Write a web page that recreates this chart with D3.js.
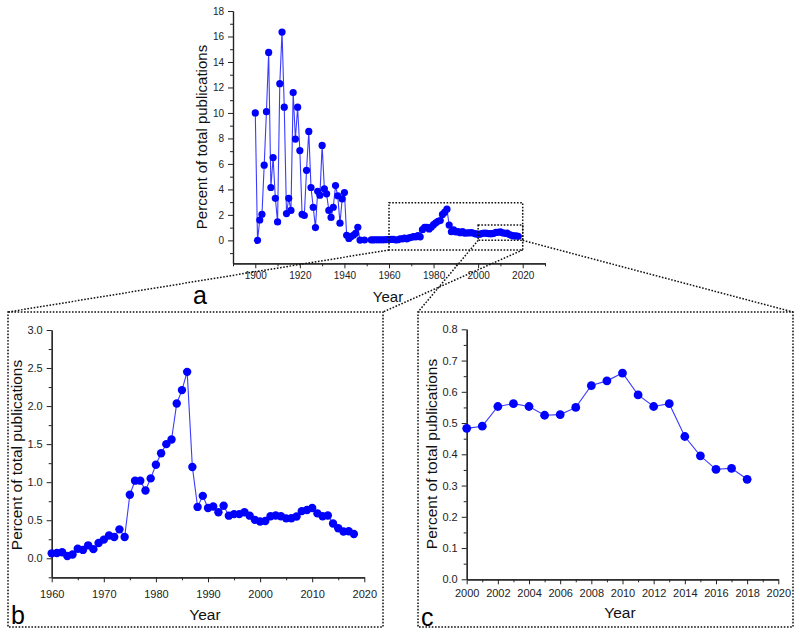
<!DOCTYPE html>
<html>
<head>
<meta charset="utf-8">
<script src="https://cdn.jsdelivr.net/npm/d3@7"></script>
<style>
  html, body { margin: 0; padding: 0; background: #fff; }
  svg { display: block; font-family: "Liberation Sans", Arial, sans-serif; }
  .tick text { fill: #222; }
</style>
</head>
<body>
<svg id="chart" width="800" height="635"></svg>
<script>
// ---------------- data ----------------
const years = [
  1900,1901,1902,1903,1904,1905,1906,1907,1908,1909,
  1910,1911,1912,1913,1914,1915,1916,1917,1918,1919,
  1920,1921,1922,1923,1924,1925,1926,1927,1928,1929,
  1930,1931,1932,1933,1934,1935,1936,1937,1938,1939,
  1940,1941,1942,1943,1944,1945,1946,1947,1949,
  1952,1953,1954,1955,1956,1957,1958,1959,
  1960,1961,1962,1963,1964,1965,1966,1967,1968,1969,
  1970,1971,1972,1973,1974,1975,1976,1977,1978,1979,
  1980,1981,1982,1983,1984,1985,1986,1987,1988,1989,
  1990,1991,1992,1993,1994,1995,1996,1997,1998,1999,
  2000,2001,2002,2003,2004,2005,2006,2007,2008,2009,
  2010,2011,2012,2013,2014,2015,2016,2017,2018
];
const percent = [
  10.0,0.0,1.6,2.05,5.9,10.1,14.75,4.15,6.5,3.3,
  1.45,12.3,16.35,10.45,2.1,3.3,2.35,11.6,7.95,10.45,
  7.05,2.05,1.95,5.5,8.55,4.15,2.6,1.0,3.85,3.55,
  7.45,4.05,3.65,2.35,1.8,2.6,4.3,3.5,1.35,3.25,
  3.75,0.4,0.15,0.3,0.4,0.55,1.03,0.02,0.03,
  0.04,0.04,0.05,0.05,0.05,0.05,0.05,0.06,
  0.065,0.07,0.08,0.03,0.05,0.125,0.11,0.17,0.12,0.2,
  0.245,0.3,0.28,0.38,0.28,0.835,1.02,1.02,0.89,1.05,
  1.23,1.38,1.5,1.56,2.035,2.21,2.45,1.2,0.675,0.82,
  0.66,0.68,0.605,0.69,0.56,0.58,0.58,0.605,0.56,0.505,
  0.483,0.49,0.553,0.562,0.553,0.525,0.527,0.55,0.62,0.635,
  0.66,0.59,0.553,0.562,0.457,0.395,0.352,0.355,0.32
];

// tick values
const topXMajor = [1900,1920,1940,1960,1980,2000,2020];
const topXMinor = [1890,1910,1930,1950,1970,1990,2010,2030];
const topYMajor = [0,2,4,6,8,10,12,14,16,18];
const topYMinor = [-1,1,3,5,7,9,11,13,15,17];
const bXMajor = [1960,1970,1980,1990,2000,2010,2020];
const bXMinor = [1965,1975,1985,1995,2005,2015];
const bYMajor = [0.0,0.5,1.0,1.5,2.0,2.5,3.0];
const bYMinor = [-0.25,0.25,0.75,1.25,1.75,2.25,2.75];
const cXMajor = [2000,2002,2004,2006,2008,2010,2012,2014,2016,2018,2020];
const cXMinor = [2001,2003,2005,2007,2009,2011,2013,2015,2017,2019];
const cYMajor = [0.0,0.1,0.2,0.3,0.4,0.5,0.6,0.7,0.8];
const cYMinor = [0.05,0.15,0.25,0.35,0.45,0.55,0.65,0.75];

// zoom regions (data coordinates in the top chart)
const zoomB = { x: [1960, 2020], y: [-0.75, 2.95] };
const zoomC = { x: [2000, 2020], y: [0.0, 1.2] };

const data = years.map((y, i) => ({ year: y, value: percent[i] }));

// ---------------- drawing ----------------
const svg = d3.select("#chart");
const LINE = "#3b3bff", DOT = "#0000ff";

function panel(cfg) {
  const g = svg.append("g");
  const x = d3.scaleLinear().domain(cfg.xDomain).range(cfg.xRange);
  const y = d3.scaleLinear().domain(cfg.yDomain).range(cfg.yRange);
  const yAxisX = cfg.xRange[0], xAxisY = cfg.yRange[0];

  // minor ticks
  g.append("g").attr("transform", `translate(0,${xAxisY})`)
    .call(d3.axisBottom(x).tickValues(cfg.xMinor).tickSize(3).tickFormat("").tickSizeOuter(0));
  g.append("g").attr("transform", `translate(${yAxisX},0)`)
    .call(d3.axisLeft(y).tickValues(cfg.yMinor).tickSize(3).tickFormat("").tickSizeOuter(0));
  // major ticks
  const xa = g.append("g").attr("transform", `translate(0,${xAxisY})`)
    .call(d3.axisBottom(x).tickValues(cfg.xMajor).tickSize(5).tickPadding(cfg.xPad)
      .tickFormat(cfg.xFmt).tickSizeOuter(0));
  const ya = g.append("g").attr("transform", `translate(${yAxisX},0)`)
    .call(d3.axisLeft(y).tickValues(cfg.yMajor).tickSize(5).tickPadding(4)
      .tickFormat(cfg.yFmt).tickSizeOuter(0));
  [xa, ya].forEach(a => {
    a.selectAll("text").attr("font-size", cfg.tickFont).attr("font-family", "Liberation Sans, Arial, sans-serif").attr("fill", "#222");
  });
  g.selectAll(".tick line").attr("stroke", "#222");
  g.selectAll(".domain").attr("stroke", "#222").attr("stroke-width", 1.2);

  const pts = data.filter(d => d.year >= cfg.xDomain[0] && d.year <= cfg.xDomain[1]
    && d.value >= cfg.yDomain[0] && d.value <= cfg.yDomain[1]);
  const line = d3.line().x(d => x(d.year)).y(d => y(d.value));
  g.append("path").datum(pts).attr("d", line)
    .attr("fill", "none").attr("stroke", LINE).attr("stroke-width", 1.1);
  g.selectAll("circle").data(pts).join("circle")
    .attr("cx", d => x(d.year)).attr("cy", d => y(d.value)).attr("r", cfg.r)
    .attr("fill", DOT);

  // labels
  g.append("text").attr("x", cfg.xLabel[0]).attr("y", cfg.xLabel[1])
    .attr("text-anchor", "middle").attr("font-size", cfg.labelFont).attr("fill", "#111").text("Year");
  g.append("text").attr("transform", `translate(${cfg.yLabel[0]},${cfg.yLabel[1]}) rotate(-90)`)
    .attr("text-anchor", "middle").attr("font-size", cfg.labelFont).attr("fill", "#111")
    .text("Percent of total publications");
  g.append("text").attr("x", cfg.letter[0]).attr("y", cfg.letter[1])
    .attr("font-size", 25).attr("fill", "#000").text(cfg.letterText);
  return { x, y };
}

const fmt0 = d3.format("d"), fmt1 = d3.format(".1f");

const topPanel = panel({
  xDomain: [1890, 2030], xRange: [233, 545],
  yDomain: [-1.8, 18], yRange: [263.3, 11],
  xMajor: topXMajor, xMinor: topXMinor, yMajor: topYMajor, yMinor: topYMinor,
  xFmt: fmt0, yFmt: fmt0, xPad: 4, tickFont: "10px", labelFont: "15px", r: 3.6,
  xLabel: [388, 302], yLabel: [207, 137], letter: [193, 304], letterText: "a"
});
panel({
  xDomain: [1960, 2020], xRange: [51.7, 364.3],
  yDomain: [-0.25, 3.0], yRange: [577.3, 330],
  xMajor: bXMajor, xMinor: bXMinor, yMajor: bYMajor, yMinor: bYMinor,
  xFmt: fmt0, yFmt: fmt1, xPad: 8, tickFont: "11px", labelFont: "15.5px", r: 4.2,
  xLabel: [205, 620], yLabel: [22, 455], letter: [11, 624], letterText: "b"
});
panel({
  xDomain: [2000, 2020], xRange: [466.7, 778.3],
  yDomain: [0, 0.8], yRange: [579.3, 329.3],
  xMajor: cXMajor, xMinor: cXMinor, yMajor: cYMajor, yMinor: cYMinor,
  xFmt: fmt0, yFmt: fmt1, xPad: 5, tickFont: "11px", labelFont: "15.5px", r: 4.4,
  xLabel: [620, 618], yLabel: [437, 454], letter: [421, 626], letterText: "c"
});

// dotted zoom rectangles and connectors
const dot = g => g.attr("fill", "none").attr("stroke", "#111").attr("stroke-width", 1.5)
  .attr("stroke-dasharray", "1.6,1.6");
const ann = svg.append("g");
function zrect(z) {
  const x0 = topPanel.x(z.x[0]), x1 = topPanel.x(z.x[1]);
  const y0 = topPanel.y(z.y[1]), y1 = topPanel.y(z.y[0]);
  ann.append("rect").attr("x", x0).attr("y", y0).attr("width", x1 - x0).attr("height", y1 - y0).call(dot);
  return { x0, x1, y0, y1 };
}
const rb = zrect(zoomB), rc = zrect(zoomC);
const boxB = { x0: 8, y0: 312, x1: 383, y1: 627 };
const boxC = { x0: 418, y0: 312, x1: 793, y1: 627 };
[boxB, boxC].forEach(b => ann.append("rect").attr("x", b.x0).attr("y", b.y0)
  .attr("width", b.x1 - b.x0).attr("height", b.y1 - b.y0).call(dot));
const conns = [
  [rb.x0, rb.y1, boxB.x0, boxB.y0],
  [rb.x1, rb.y1, boxB.x1, boxB.y0],
  [rc.x0, rc.y1, boxC.x0, boxC.y0],
  [rc.x1, rc.y1, boxC.x1, boxC.y0]
];
conns.forEach(c => ann.append("line").attr("x1", c[0]).attr("y1", c[1])
  .attr("x2", c[2]).attr("y2", c[3]).call(dot));
</script>
</body>
</html>
